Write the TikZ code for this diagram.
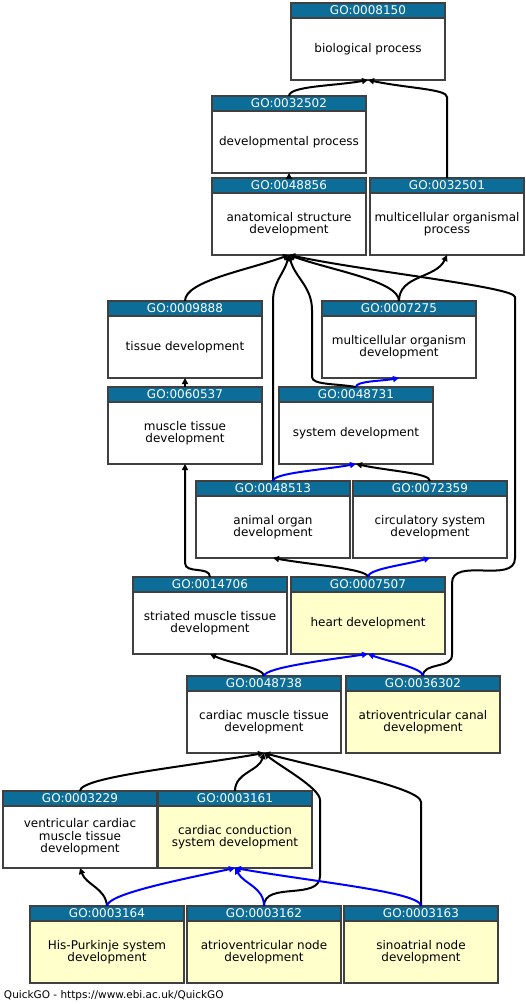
\documentclass[tikz,border=0pt]{standalone}
\usepackage{fontspec}
\setmainfont{DejaVu Sans}
\usetikzlibrary{arrows.meta,positioning}
\definecolor{hdColor}{HTML}{0B6D98}
\definecolor{hitColor}{HTML}{FFFFCC}
\definecolor{boxColor}{HTML}{404040}
\definecolor{partColor}{HTML}{0000FF}
\tikzset{go term/.style={draw=boxColor, fill=white, line width=1.2pt, outer sep=0pt,
		minimum width=154pt, minimum height=62pt, inner sep=0pt, align=center,
		font=\fontsize{12}{12.5}\selectfont}}
\tikzset{go hit/.style={go term, fill=hitColor}}
\tikzset{go head/.style={draw=boxColor, fill=hdColor, text=white, line width=1.2pt, outer sep=0pt,
		minimum width=154pt, minimum height=15pt, inner sep=0pt,
		font=\fontsize{12}{12}\selectfont}}
\tikzset{part/.style={partColor}}

\begin{document}
\begin{tikzpicture}[->,>={Triangle[length=6pt,width=6pt]}, line width=2pt, x=1pt, y=1pt]
	\useasboundingbox (0,0) rectangle (526,-1004);
	\node[go term, label={[go head, name=hd_8150]north:{GO:0008150}}] at (368,-49) (go_8150) {biological process};
	\node[go term, label={[go head, name=hd_32502]north:{GO:0032502}}] at (289,-142) (go_32502) {developmental process};
	\node[go term, label={[go head, name=hd_48856]north:{GO:0048856}}] at (289,-224) (go_48856) {anatomical structure\\development};
	\node[go term, label={[go head, name=hd_32501]north:{GO:0032501}}] at (447,-224) (go_32501) {multicellular organismal\\process};
	\node[go term, label={[go head, name=hd_9888]north:{GO:0009888}}] at (185,-347) (go_9888) {tissue development};
	\node[go term, label={[go head, name=hd_7275]north:{GO:0007275}}] at (399,-347) (go_7275) {multicellular organism\\development};
	\node[go term, label={[go head, name=hd_60537]north:{GO:0060537}}] at (185,-433) (go_60537) {muscle tissue\\development};
	\node[go term, label={[go head, name=hd_48731]north:{GO:0048731}}] at (356,-433) (go_48731) {system development};
	\node[go term, label={[go head, name=hd_48513]north:{GO:0048513}}] at (273,-527) (go_48513) {animal organ\\development};
	\node[go term, label={[go head, name=hd_72359]north:{GO:0072359}}] at (430,-527) (go_72359) {circulatory system\\development};
	\node[go term, label={[go head, name=hd_14706]north:{GO:0014706}}] at (210,-623) (go_14706) {striated muscle tissue\\development};
	\node[go hit, label={[go head, name=hd_7507]north:{GO:0007507}}] at (368,-623) (go_7507) {heart development};
	\node[go term, label={[go head, name=hd_48738]north:{GO:0048738}}] at (264,-722) (go_48738) {cardiac muscle tissue\\development};
	\node[go hit, label={[go head, name=hd_36302]north:{GO:0036302}}] at (423,-722) (go_36302) {atrioventricular canal\\development};
	\node[go term, label={[go head, name=hd_3229]north:{GO:0003229}}] at (80,-837) (go_3229) {ventricular cardiac\\muscle tissue\\development};
	\node[go hit, label={[go head, name=hd_3161]north:{GO:0003161}}] at (235,-837) (go_3161) {cardiac conduction\\system development};
	\node[go hit, label={[go head, name=hd_3164]north:{GO:0003164}}] at (107,-952) (go_3164) {His-Purkinje system\\development};
	\node[go hit, label={[go head, name=hd_3162]north:{GO:0003162}}] at (264,-952) (go_3162) {atrioventricular node\\development};
	\node[go hit, label={[go head, name=hd_3163]north:{GO:0003163}}] at (421,-952) (go_3163) {sinoatrial node\\development};
	\node[anchor=west, inner sep=0pt, font=\fontsize{10.5}{12}\selectfont] at (3,-996) (credit) {QuickGO - https://www.ebi.ac.uk/QuickGO};

	% is_a
	\path (hd_32502.north) edge[out=90,in=-170,out distance=10pt,in distance=35pt] (go_8150.south);
	\draw (hd_32501.north) -- ++(0,81) to[out=90,in=-12,out distance=8pt,in distance=40pt] (go_8150.south);
	\path (hd_48856.north) edge (go_32502.south);
	\path (hd_9888.north) edge[out=90,in=-160,out distance=20pt,in distance=45pt] (go_48856.south);
	\path (hd_7275.north) edge[out=90,in=-20,out distance=20pt,in distance=45pt] (go_48856.south);
	\path (hd_7275.north) edge[out=90,in=-115] (go_32501.south);
	\draw (hd_48513.north) -- ++(0,180) to[out=90,in=-105] (go_48856.south);
	\draw (hd_48731.north) to[out=170,in=-90,out distance=20pt,in distance=8pt] ++(-44,10) -- ++(0,67) to[out=90,in=-75] (go_48856.south);
	\draw (hd_36302.north) to[out=90,in=-90] ++(29,21) -- ++(0,72) to[out=90,in=-90] ++(63,25) -- ++(0,261) to[out=90,in=-12,out distance=10pt,in distance=80pt] (go_48856.south);
	\path (hd_60537.north) edge (go_9888.south);
	\draw (hd_14706.north) to[out=90,in=-90] ++(-25,14) -- (go_60537.south);
	\path (hd_72359.north) edge[out=90,in=-12,out distance=8pt,in distance=35pt] (go_48731.south);
	\path (hd_7507.north) edge[out=90,in=-10,out distance=8pt,in distance=40pt] (go_48513.south);
	\path (hd_48738.north) edge[out=90,in=-25,out distance=8pt,in distance=22pt] (go_14706.south);
	\path (hd_3229.north) edge[out=90,in=-170,out distance=14pt,in distance=80pt] (go_48738.south);
	\path (hd_3161.north) edge[out=90,in=-105] (go_48738.south);
	\draw (hd_3162.north) to[out=90,in=-90] ++(56,30) -- ++(0,76) to[out=90,in=-40,out distance=12pt,in distance=20pt] (go_48738.south);
	\draw (hd_3163.north) -- ++(0,104) to[out=90,in=-15,out distance=14pt,in distance=60pt] (go_48738.south);
	\path (hd_3164.north) edge[out=95,in=-70] (go_3229.south);

	% part_of
	\path (hd_48513.north) edge[part,out=90,in=-170,out distance=8pt,in distance=35pt] (go_48731.south);
	\path (hd_48731.north) edge[part,out=90,in=-170,out distance=6pt,in distance=18pt] (go_7275.south);
	\path (hd_7507.north) edge[part,out=90,in=-165,out distance=8pt,in distance=28pt] (go_72359.south);
	\path (hd_48738.north) edge[part,out=90,in=-172,out distance=8pt,in distance=45pt] (go_7507.south);
	\path (hd_36302.north) edge[part,out=90,in=-20,out distance=8pt,in distance=22pt] (go_7507.south);
	\path (hd_3164.north) edge[part,out=90,in=-168,out distance=12pt,in distance=55pt] (go_3161.south);
	\path (hd_3162.north) edge[part,out=90,in=-60] (go_3161.south);
	\path (hd_3163.north) edge[part,out=90,in=-10,out distance=14pt,in distance=80pt] (go_3161.south);
\end{tikzpicture}
\end{document}
